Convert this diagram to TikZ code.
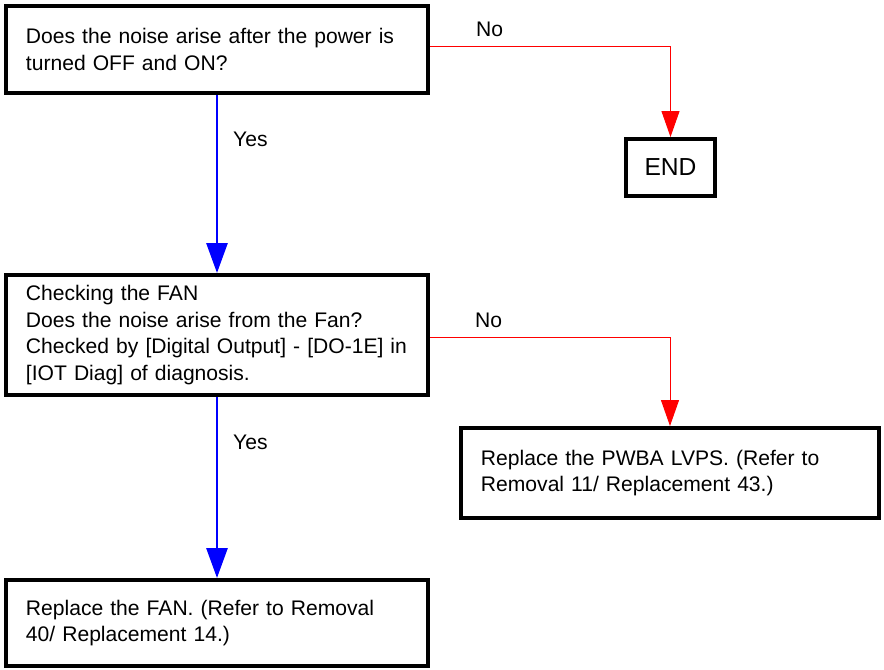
\documentclass[tikz,border=0pt]{standalone}
\usepackage{fontspec}
\setmainfont{Liberation Sans}
\usetikzlibrary{arrows.meta,positioning}
\definecolor{yesblue}{RGB}{0,0,255}
\definecolor{nored}{RGB}{255,0,0}

\begin{document}
\begin{tikzpicture}[
    x=0.025cm,y=-0.025cm,
    qbox/.style={draw,line width=2.8pt,align=left,inner xsep=0.5cm,
                 inner ysep=0pt,text width=9.55cm,
                 font=\fontsize{15}{18.8}\selectfont},
    yesarr/.style={-{Triangle[length=0.75cm,width=0.525cm]},yesblue,line width=2pt},
    noarr/.style={-{Triangle[length=0.65cm,width=0.45cm]},nored,line width=0.7pt},
    lbl/.style={inner sep=2pt,text=black,font=\fontsize{15}{18.8}\selectfont}
  ]
  \useasboundingbox (0,0) rectangle (884,670);

  %% ── Power cycle check ─────────────────────────────────────────────────────
  \node[qbox,minimum height=2.175cm] (q1)
      at (217,49.5) {Does the noise arise after the power is\\turned OFF and ON?};
  \node[qbox,text width={},align=center,inner xsep=0pt,minimum width=2.225cm,
        minimum height=1.425cm,font=\fontsize{17.5}{21}\selectfont] (endbox)
      at (670.5,167.5) {END};

  \draw[noarr] ([yshift=2pt]q1.east) -| node[lbl,pos=0.124,above=4.5pt]{No} (endbox);

  %% ── Fan check ─────────────────────────────────────────────────────────────
  \node[qbox,minimum height=3.0cm] (q2)
      at (217,335) {Checking the FAN\\Does the noise arise from the Fan?\\Checked by [Digital Output] - [DO-1E] in\\{}[IOT Diag] of diagnosis.};

  \draw[yesarr] (q1) -- node[lbl,pos=0.25,right=8.5pt]{Yes} (q2);

  %% ── Replacements ──────────────────────────────────────────────────────────
  \node[qbox,text width=9.45cm,minimum height=2.25cm] (pwba)
      at (670,473) {Replace the PWBA LVPS. (Refer to\\Removal 11/ Replacement 43.)};
  \node[qbox,minimum height=2.15cm] (fan)
      at (217,623) {Replace the FAN. (Refer to Removal\\40/ Replacement 14.)};

  \draw[noarr] ([yshift=-1.5pt]q2.east) -| node[lbl,pos=0.122,above=4.5pt]{No} (pwba);
  \draw[yesarr] (q2) -- node[lbl,pos=0.25,right=8.5pt]{Yes} (fan);

\end{tikzpicture}
\end{document}
